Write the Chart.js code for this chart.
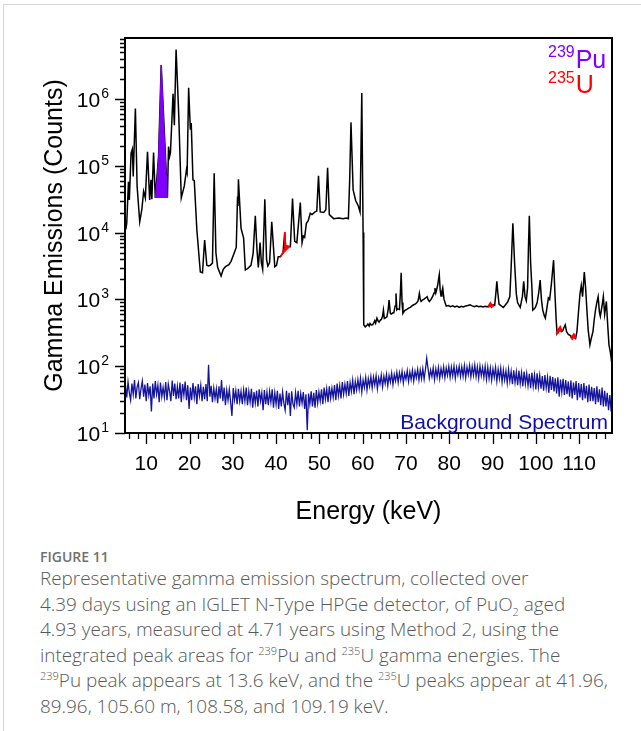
<!DOCTYPE html>
<html><head><meta charset="utf-8">
<script src="https://cdn.jsdelivr.net/npm/chart.js@4.4.1/dist/chart.umd.min.js"></script>
<style>
html,body{margin:0;padding:0;background:#fff;width:641px;height:731px;overflow:hidden;}
#card{position:absolute;left:3px;top:4px;width:700px;height:800px;border-left:1px solid #d6d6d6;border-top:1px solid #d6d6d6;}
#c{position:absolute;left:0;top:0;}
#cap{position:absolute;left:40px;top:548px;font-family:'Open Sans',sans-serif;color:#585858;white-space:nowrap;}
#fig{font-size:14px;font-weight:600;color:#707070;line-height:18px;}
#txt{font-size:18.9px;line-height:25.5px;font-weight:300;}
sup,sub{font-size:11px;line-height:0;}
</style></head>
<body>
<div id="card"></div>
<canvas id="c" width="641" height="540"></canvas>
<div id="cap">
<div id="fig">FIGURE 11</div>
<div id="txt">Representative gamma emission spectrum, collected over<br>4.39 days using an IGLET N-Type HPGe detector, of PuO<sub>2</sub> aged<br>4.93 years, measured at 4.71 years using Method 2, using the<br>integrated peak areas for <sup>239</sup>Pu and <sup>235</sup>U gamma energies. The<br><sup>239</sup>Pu peak appears at 13.6 keV, and the <sup>235</sup>U peaks appear at 41.96,<br>89.96, 105.60 m, 108.58, and 109.19 keV.</div>
</div>
<script>
// ---------- data ----------
const xTicks = [10,20,30,40,50,60,70,80,90,100,110];
const yTickExps = [1,2,3,4,5,6];

// sample spectrum (energy keV, counts)
const specE = [5.3,5.5,5.9,6.1,6.5,6.8,7.0,7.5,7.9,8.5,9.0,9.4,9.8,10.3,10.8,11.1,11.3,11.7,12.1,12.85,13.46,14.9,
15.15,15.4,15.6,16.2,16.5,16.9,17.5,18.1,18.8,19.3,19.45,19.8,20.2,20.4,20.8,21.1,21.7,22.5,23.0,23.5,24.0,24.4,24.8,25.3,25.7,26.1,26.5,27.3,27.8,28.3,29.1,29.6,30.3,30.8,31.1,31.2,31.3,31.9,32.5,32.9,33.4,34.2,34.7,35.2,35.6,35.9,36.3,36.6,36.9,37.4,37.8,38.1,38.5,39.0,39.7,40.1,40.5,41.0,41.6,42.0,42.2,43.3,43.8,44.3,44.8,45.6,46.0,46.3,46.6,47.0,47.4,47.9,48.3,49.0,49.4,49.8,50.2,51.0,51.5,51.9,52.3,53.3,54.5,55.5,56.2,56.7,57.0,57.3,57.8,58.4,59.0,59.4,59.8,60.1,60.25,
60.6,61.0,61.2,61.5,61.7,62.0,62.3,62.6,62.8,63.0,63.3,63.6,63.8,64.1,64.3,64.6,64.8,65.0,65.2,65.6,65.9,66.1,66.4,66.6,67.0,67.2,67.5,67.7,67.9,68.1,68.5,68.7,68.9,69.1,69.3,69.7,70.2,70.6,71.0,71.4,71.8,72.2,72.5,72.8,73.1,73.3,73.5,73.8,74.1,74.5,74.9,75.1,75.4,75.8,76.2,76.5,76.7,76.9,77.0,77.3,77.7,77.9,78.1,78.3,78.5,78.8,79.3,79.8,80.3,80.8,81.3,81.8,82.3,82.8,83.3,83.8,84.3,84.8,85.3,85.8,86.3,86.8,87.3,87.8,88.3,88.7,89.1,89.5,89.8,90.2,90.5,90.8,91.0,91.2,91.5,92.0,92.5,93.0,93.5,94.0,94.3,94.7,95.1,95.5,95.8,96.4,96.9,97.2,97.5,97.8,98.1,98.3,98.5,98.8,99.1,99.3,99.6,99.9,100.3,100.7,101.0,101.3,101.6,102.0,102.2,102.5,102.9,103.2,103.6,104.1,104.4,104.7,104.9,105.3,105.6,105.9,106.2,106.5,106.8,107.1,107.5,107.9,108.1,108.4,108.8,109.2,109.5,109.9,110.2,110.5,110.8,111.2,111.5,111.8,112.1,112.5,112.8,113.2,113.5,113.8,114.1,114.4,114.7,114.9,115.3,115.6,115.9,116.3,116.6,116.9,117.2,117.4,117.6];
const specCounts = [11200,13800,57500,30900,155000,178000,69200,724000,49000,14500,22400,41700,33100,162000,30900,61700,31600,158000,33100,138000,3240000,33100,
195000,138000,158000,1200000,407000,5500000,617000,33100,50100,87100,79400,1480000,347000,437000,61700,60300,11000,2570,2510,7760,3240,3160,3240,3500,77600,5000,3020,2240,2820,3090,3310,3720,4900,6000,34700,25000,63100,11700,8300,2750,2880,3240,4900,17800,5370,3020,7080,3550,2820,31600,3980,3160,3550,14500,3090,3240,4370,4370,5000,10200,6300,6170,32400,7400,7080,28200,7080,8900,8500,13800,15000,19500,18600,20400,21000,70800,20400,20000,22000,93300,18600,16200,16600,16200,16600,16200,60000,447000,43600,30000,25000,20400,1230000,10000,417,
389,410,427,400,437,415,417,450,479,440,525,470,457,490,501,560,692,520,525,550,700,977,620,603,630,631,800,1230,700,724,708,1200,2510,900,617,680,708,740,759,800,832,860,891,950,1230,1000,933,980,1000,1050,1100,1000,933,1000,1120,1250,1480,1250,1318,1600,2340,1400,1122,1300,1480,1000,794,810,780,800,770,795,760,790,770,800,810,832,800,780,800,775,790,770,790,775,776,850,790,830,820,1300,1860,1300,850,800,759,830,912,1100,3000,13800,3500,1200,891,759,1100,1860,1100,955,1500,6000,17800,3500,1500,692,720,760,891,1300,1950,1000,692,560,525,700,1050,1000,1700,3890,1300,500,309,350,372,330,340,380,417,330,300,290,280,265,290,262,330,700,1200,1620,1100,2570,1500,700,350,209,260,330,500,700,900,1100,640,560,800,1100,600,933,420,209,166,132,200];

// 239Pu integrated peak (purple)
const puE = [12.1,12.5,12.85,13.2,13.46,14.2,14.9];
const puCounts = [33100,60000,138000,700000,3240000,250000,33100];
const puBase = 33100;

// 235U integrated peaks (red)
const u42E = [41.0,41.6,41.85,42.0,42.2,43.3];
const u42Counts = [4370,5000,5600,10200,6300,6170];
const u42BaseE = [41.0,43.3];
const u42BaseCounts = [4370,6170];
const u90E = [89.1,89.5,89.8,90.2];
const u90Counts = [776,850,790,830];
const u105E = [104.9,105.3,105.6,105.9];
const u105Counts = [309,350,372,330];
const u108E = [108.1,108.4,108.8,109.2];
const u108Counts = [280,265,290,262];

// background spectrum: channel energies start at 5.2 keV, 0.3 keV per channel
const bgStart = 5.2, bgStep = 0.3;
const bgCounts = [
52,34,58,40,31,55,38,62,33,49,
57,32,46,60,35,53,30,56,37,50,
21,55,33,60,38,52,29,57,35,48,
34,58,31,54,42,30,61,36,55,32,
50,33,57,29,54,37,59,31,52,23,
48,31,56,34,50,27,54,36,52,30,
49,32,54,30,105,35,51,29,47,33,
46,28,50,33,62,30,48,26,44,31,
45,29,18,47,31,43,27,46,30,42,
27,44,30,48,26,42,29,46,24,41,
28,43,25,45,30,40,22,44,27,41,
26,42,29,45,24,40,27,43,23,39,
25,41,28,22,43,26,40,18,42,27,
24,40,27,43,25,39,28,41,23,38,
11,39,27,42,25,40,24,44,28,41,
30,45,27,48,32,46,29,50,33,47,
34,52,31,55,36,51,33,58,38,54,
39,60,36,57,42,62,38,59,44,63,
45,66,41,62,48,68,44,65,50,70,
47,69,52,72,46,67,54,74,49,71,
55,76,51,73,58,79,53,75,60,81,
57,80,62,84,56,78,64,86,59,82,
63,87,60,84,67,90,62,88,65,92,
64,89,132,93,66,88,70,95,63,91,
69,96,65,92,71,98,67,94,73,99,
68,97,72,101,66,95,74,100,70,98,
71,102,67,97,75,103,69,99,73,104,
70,98,66,101,72,96,68,100,64,97,
66,94,62,91,68,96,60,90,65,93,
58,88,62,85,56,90,60,84,54,87,
57,82,52,86,55,80,50,83,54,78,
51,77,47,80,50,74,45,78,49,73,
46,71,43,74,47,68,40,72,44,69,
42,66,39,68,35,63,41,65,37,62,
38,59,35,61,33,57,37,60,31,56,
34,54,31,56,33,51,29,53,30,49,
30,47,27,50,29,45,26,48,25,43,
25,40,22,37,21];

// ---------- styling ----------
const FONT = "'Liberation Sans', Arial, sans-serif";
const PU = '#8000ff', UCOL = '#ff0000', BG = '#14149c';
const pts = (xs, ys) => xs.map((x, i) => ({x: x, y: ys[i]}));
const bgPts = bgCounts.map((v, i) => ({x: +(bgStart + i * bgStep).toFixed(2), y: v}));

const decor = {
  id: 'decor',
  afterDraw(chart) {
    const c = chart.ctx, a = chart.chartArea, xs = chart.scales.x, ys = chart.scales.y;
    c.save();
    c.strokeStyle = '#000';
    c.lineWidth = 1.3;
    c.beginPath();
    for (let e = 1; e <= 7; e++) {
      for (let n = 1; n <= 9; n++) {
        const v = n * Math.pow(10, e);
        if (v > ys.max) break;
        const y = Math.round(ys.getPixelForValue(v)) + 0.5;
        const len = n === 1 ? 10 : 5;
        c.moveTo(a.left - len, y); c.lineTo(a.left, y);
      }
    }
    for (let v = 6; v <= xs.max; v += 2) {
      const x = Math.round(xs.getPixelForValue(v)) + 0.5;
      const len = xTicks.includes(v) ? 11 : 6;
      c.moveTo(x, a.bottom); c.lineTo(x, a.bottom + len);
    }
    c.stroke();
    c.lineWidth = 2;
    c.strokeRect(a.left, a.top, a.right - a.left, a.bottom - a.top);
    c.fillStyle = '#000';
    c.textAlign = 'left';
    for (const e of yTickExps) {
      const y = ys.getPixelForValue(Math.pow(10, e));
      c.font = '21px ' + FONT;
      const wb = c.measureText('10').width;
      c.font = '14px ' + FONT;
      const we = c.measureText(String(e)).width;
      const right = a.left - 16;
      c.font = '21px ' + FONT;
      c.textBaseline = 'alphabetic';
      c.fillText('10', right - we - wb - 1, y + 8);
      c.font = '14px ' + FONT;
      c.fillText(String(e), right - we, y - 1);
    }
    const lx = a.right - 64;
    c.fillStyle = PU;
    c.font = '16px ' + FONT; c.fillText('239', lx, a.top + 19);
    let w = c.measureText('239').width;
    c.font = '25px ' + FONT; c.fillText('Pu', lx + w + 1, a.top + 30);
    c.fillStyle = UCOL;
    c.font = '16px ' + FONT; c.fillText('235', lx, a.top + 45);
    w = c.measureText('235').width;
    c.font = '25px ' + FONT; c.fillText('U', lx + w + 1, a.top + 55);
    c.fillStyle = '#1010a8';
    c.font = '21px ' + FONT;
    c.textAlign = 'right';
    c.fillText('Background Spectrum', a.right - 4, a.bottom - 4);
    c.restore();
  }
};

new Chart(document.getElementById('c'), {
  type: 'line',
  data: {datasets: [
    {data: pts(puE, puCounts), borderColor: PU, backgroundColor: PU, borderWidth: 1, fill: {value: puBase}},
    {data: pts(u42E, u42Counts), borderColor: UCOL, backgroundColor: UCOL, borderWidth: 1.5, fill: 2},
    {data: pts(u42BaseE, u42BaseCounts), borderColor: 'rgba(0,0,0,0)', borderWidth: 0, fill: false},
    {data: pts(u90E, u90Counts), borderColor: UCOL, borderWidth: 3, fill: false},
    {data: pts(u105E, u105Counts), borderColor: UCOL, borderWidth: 3, fill: false},
    {data: pts(u108E, u108Counts), borderColor: UCOL, borderWidth: 3, fill: false},
    {data: pts(specE, specCounts), borderColor: '#000', borderWidth: 1.5, fill: false},
    {data: bgPts, borderColor: BG, borderWidth: 1.3, fill: false}
  ]},
  options: {
    responsive: false,
    animation: false,
    elements: {point: {radius: 0, hoverRadius: 0}, line: {tension: 0}},
    layout: {padding: {left: 0, top: 38, right: 29, bottom: 0}},
    plugins: {legend: {display: false}, tooltip: {enabled: false}},
    events: [],
    scales: {
      x: {
        type: 'linear', min: 5.1, max: 117.6,
        grid: {display: false, drawTicks: false},
        border: {display: false},
        afterBuildTicks: s => { s.ticks = xTicks.map(v => ({value: v})); },
        ticks: {font: {family: FONT, size: 21}, color: '#000', padding: 19, maxRotation: 0, autoSkip: false},
        title: {display: true, text: 'Energy (keV)', color: '#000', font: {family: FONT, size: 25}, padding: {top: 0, bottom: 13}},
        afterFit: s => { s.height = 107; }
      },
      y: {
        type: 'logarithmic', min: 10, max: 8.2e6,
        grid: {display: false, drawTicks: false},
        border: {display: false},
        ticks: {display: false},
        title: {display: true, text: 'Gamma Emissions (Counts)', color: '#000', font: {family: FONT, size: 25}, padding: {top: 40, bottom: 0}},
        afterFit: s => { s.width = 125; }
      }
    }
  },
  plugins: [decor]
});
</script>
</body></html>
